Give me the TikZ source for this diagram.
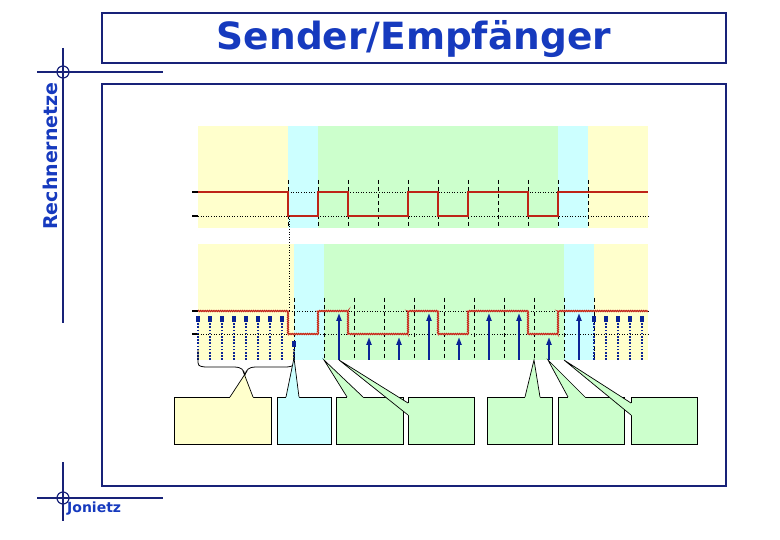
\documentclass[tikz,border=0pt]{standalone}
\usepackage{fontspec}
\newfontfamily\dejavu{DejaVu Sans}
\usetikzlibrary{arrows.meta,decorations.pathmorphing}
\definecolor{frameblue}{RGB}{24,34,120}
\definecolor{titleblue}{RGB}{22,58,190}
\definecolor{cyn}{RGB}{204,255,255}
\definecolor{yel}{RGB}{255,255,204}
\definecolor{grn}{RGB}{204,255,204}
\definecolor{sig}{RGB}{190,36,24}
\definecolor{halocol}{RGB}{240,170,140}
\definecolor{arr}{RGB}{10,36,150}
\tikzset{
  frame/.style={draw=frameblue, line width=1.2pt},
  lbl/.style={text=titleblue, font=\dejavu\bfseries, inner sep=0pt},
  tickln/.style={line width=1.4pt, black},
  gridln/.style={black, dotted, line width=0.6pt},
  dashln/.style={black, line width=0.7pt, dash pattern=on 4pt off 3pt},
  sigline/.style={sig, line width=2.4pt},
  haloline/.style={halocol, line width=2.2pt},
  sigzig/.style={sig, line width=0.9pt, decorate, decoration={zigzag, segment length=2.2pt, amplitude=0.7pt}},
  samp/.style={arr, line width=2.3pt, -{Triangle[length=8pt,width=5pt]}},
  sampdot/.style={arr, line width=2pt, dash pattern=on 1.6pt off 1.6pt, -{Rectangle[length=6pt,width=4.5pt]}},
  cbox/.style={draw=black, line width=0.8pt, inner sep=0pt},
  wedge/.style={draw=black, line width=0.7pt}
}
\begin{document}
\begin{tikzpicture}[x=1pt,y=-1pt]
\useasboundingbox (0,0) rectangle (780,540);
% frame
\draw[frame] (102,13) rectangle (726,63);
\draw[frame] (102,84) rectangle (726,486);
\draw[frame] (63,48) -- (63,323);
\draw[frame] (37,72) -- (163,72);
\draw[frame] (63,72) circle[radius=6pt];
\draw[frame] (63,462) -- (63,521);
\draw[frame] (37,498) -- (163,498);
\draw[frame] (63,498) circle[radius=6pt];
\node[lbl, font=\dejavu\bfseries\fontsize{37.5}{40}\selectfont] (title) at (414,39) {Sender/Empfänger};
\node[lbl, font=\dejavu\bfseries\fontsize{19}{21}\selectfont, rotate=90] (rn) at (50,156) {Rechnernetze};
\node[lbl, font=\dejavu\bfseries\fontsize{14}{16}\selectfont, anchor=west] (jon) at (67,509) {Jonietz};

% upper panel
\fill[yel] (198,126) rectangle (288,228);
\fill[cyn] (288,126) rectangle (318,228);
\fill[grn] (318,126) rectangle (558,228);
\fill[cyn] (558,126) rectangle (588,228);
\fill[yel] (588,126) rectangle (648,228);
\draw[gridln] (288,192) -- (648,192);
\draw[gridln] (198,216) -- (648,216);
\draw[tickln] (192,192) -- (198,192);
\draw[tickln] (192,216) -- (198,216);
\foreach \x in {288,318,...,588} \draw[dashln] (\x,180) -- (\x,228);
\draw[sigline] (198,192) -| (288,216) -| (318,192) -| (348,216) -| (408,192) -| (438,216) -| (468,192) -| (528,216) -| (558,192) -- (648,192);

% lower panel
\fill[yel] (198,244) rectangle (294,360);
\fill[cyn] (294,244) rectangle (324,360);
\fill[grn] (324,244) rectangle (564,360);
\fill[cyn] (564,244) rectangle (594,360);
\fill[yel] (594,244) rectangle (648,360);
\draw[gridln] (289,216) -- (289,311);
\draw[gridln] (289,311) -- (648,311);
\draw[gridln] (198,334) -- (648,334);
\draw[tickln] (192,311) -- (198,311);
\draw[tickln] (192,334) -- (198,334);
\foreach \x in {294,324,...,594} \draw[dashln] (\x,298) -- (\x,360);
\draw[haloline] (198,311) -| (288,334) -| (318,311) -| (348,334) -| (408,311) -| (438,334) -| (468,311) -| (528,334) -| (558,311) -- (648,311);
\draw[sigzig] (198,311) -| (288,334) -| (318,311) -| (348,334) -| (408,311) -| (438,334) -| (468,311) -| (528,334) -| (558,311) -- (648,311);
% sampling arrows
\foreach \x in {198,210,...,282,594,606,...,642} \draw[sampdot] (\x,360) -- (\x,316);
\draw[sampdot] (294,360) -- (294,341);
\foreach \x in {339,429,489,519,579} \draw[samp] (\x,360) -- (\x,313);
\foreach \x in {369,399,459,549} \draw[samp] (\x,360) -- (\x,337);

% brace
\draw[black, line width=0.8pt] (198,350) -- (198,359) .. controls (198,366) .. (205,367) -- (235,367) .. controls (241,367) and (244,370) .. (245,375) .. controls (246,370) and (249,367) .. (255,367) -- (287,367) .. controls (294,366) .. (294,359) -- (294,350);

% callout boxes
\node[cbox, fill=yel, minimum width=97pt, minimum height=47pt, anchor=north west] (b1) at (174,397) {};
\node[cbox, fill=cyn, minimum width=54pt, minimum height=47pt, anchor=north west] (b2) at (277,397) {};
\node[cbox, fill=grn, minimum width=67pt, minimum height=47pt, anchor=north west] (b3) at (336,397) {};
\node[cbox, fill=grn, minimum width=66pt, minimum height=47pt, anchor=north west] (b4) at (408,397) {};
\node[cbox, fill=grn, minimum width=65pt, minimum height=47pt, anchor=north west] (b5) at (487,397) {};
\node[cbox, fill=grn, minimum width=66pt, minimum height=47pt, anchor=north west] (b6) at (558,397) {};
\node[cbox, fill=grn, minimum width=66pt, minimum height=47pt, anchor=north west] (b7) at (631,397) {};

% wedges (pointers)
\fill[yel] (245,374) -- (230,397) -- (230,399) -- (253,399) -- (253,397) -- cycle;
\draw[wedge] (230,397) -- (247,371);
\draw[wedge] (253,397) -- (243,371);
\fill[cyn] (294,358) -- (286,397) -- (286,399) -- (299,399) -- (299,397) -- cycle;
\draw[wedge] (286,397) -- (294,358) -- (299,397);
\fill[grn] (324,360) -- (347,397) -- (347,399) -- (363,399) -- (363,397) -- cycle;
\draw[wedge] (347,397) -- (324,360) -- (363,397);
\fill[grn] (339,360) -- (408,403) -- (410,403) -- (410,415) -- (408,415) -- cycle;
\draw[wedge] (408,403) -- (339,360) -- (408,415);
\fill[grn] (534,360) -- (525,397) -- (525,399) -- (540,399) -- (540,397) -- cycle;
\draw[wedge] (525,397) -- (534,360) -- (540,397);
\fill[grn] (548,360) -- (568,397) -- (568,399) -- (585,399) -- (585,397) -- cycle;
\draw[wedge] (568,397) -- (548,360) -- (585,397);
\fill[grn] (564,360) -- (631,403) -- (633,403) -- (633,415) -- (631,415) -- cycle;
\draw[wedge] (631,403) -- (564,360) -- (631,415);
\end{tikzpicture}
\end{document}
